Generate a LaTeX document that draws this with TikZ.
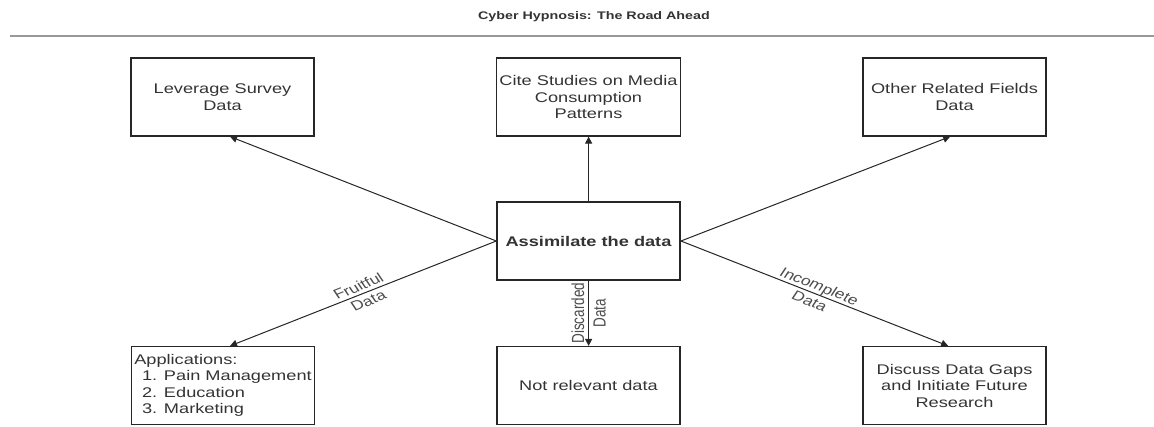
\documentclass[tikz,border=0pt]{standalone}
\usepackage{fontspec}
\setmainfont{Liberation Sans}
\usetikzlibrary{arrows.meta,calc}
\begin{document}
\begin{tikzpicture}[xscale=1.3, x=0.769231pt, y=-1pt,
  every node/.style={transform shape},
  box/.style={draw=black!85, line width=1.2pt, minimum width=140.8pt, minimum height=78pt,
    inner sep=2pt, align=center, text=black!80, font=\fontsize{14}{16.5}\selectfont},
  conn/.style={draw=black!85, line width=1pt, -{Triangle[length=7pt,width=7pt]}},
  elabel/.style={align=center, inner sep=1pt, text=black!70, font=\fontsize{13.5}{16.5}\selectfont}]
\useasboundingbox (0,0) rectangle (1154,426);
\node[text=black!80, font=\bfseries\fontsize{11}{13}\selectfont] (title) at (594,17) {Cyber Hypnosis: The Road Ahead};
\coordinate (rl) at (10,36);
\coordinate (rr) at (1154,36);
\draw[gray!80, line width=1.6pt] (rl) -- (rr);

\node[box] (lev) at (222.5,97) {Leverage Survey\\Data};
\node[box] (cite) at (588.5,97) {Cite Studies on Media\\Consumption\\Patterns};
\node[box] (oth) at (954.5,97) {Other Related Fields\\Data};
\node[box, font=\bfseries\fontsize{14}{16.5}\selectfont] (asm) at (588.5,241) {Assimilate the data};
\node[box, align=left] (app) at (223,385.5) {Applications:\\\hspace*{6pt}1. Pain Management\\\hspace*{6pt}2. Education\\\hspace*{6pt}3. Marketing};
\node[box] (nr) at (588.5,385.5) {Not relevant data};
\node[box] (dis) at (954.5,385.5) {Discuss Data Gaps\\and Initiate Future\\Research};

\draw[conn] (asm.west) -- ($(lev.south)+(7.5,0)$);
\draw[conn] (asm.north) -- (cite.south);
\draw[conn] (asm.east) -- ($(oth.south)+(-4.5,0)$);
\draw[conn] (asm.west) -- node[elabel, rotate=27.3] (lf) {Fruitful\\Data} ($(app.north)+(7,0)$);
\draw[conn] (asm.south) -- node[elabel, rotate=90] (ld) {Discarded\\Data} (nr.north);
\draw[conn] (asm.east) -- node[elabel, rotate=-27.2] (li) {Incomplete\\Data} ($(dis.north)+(-6.5,0)$);
\end{tikzpicture}
\end{document}
